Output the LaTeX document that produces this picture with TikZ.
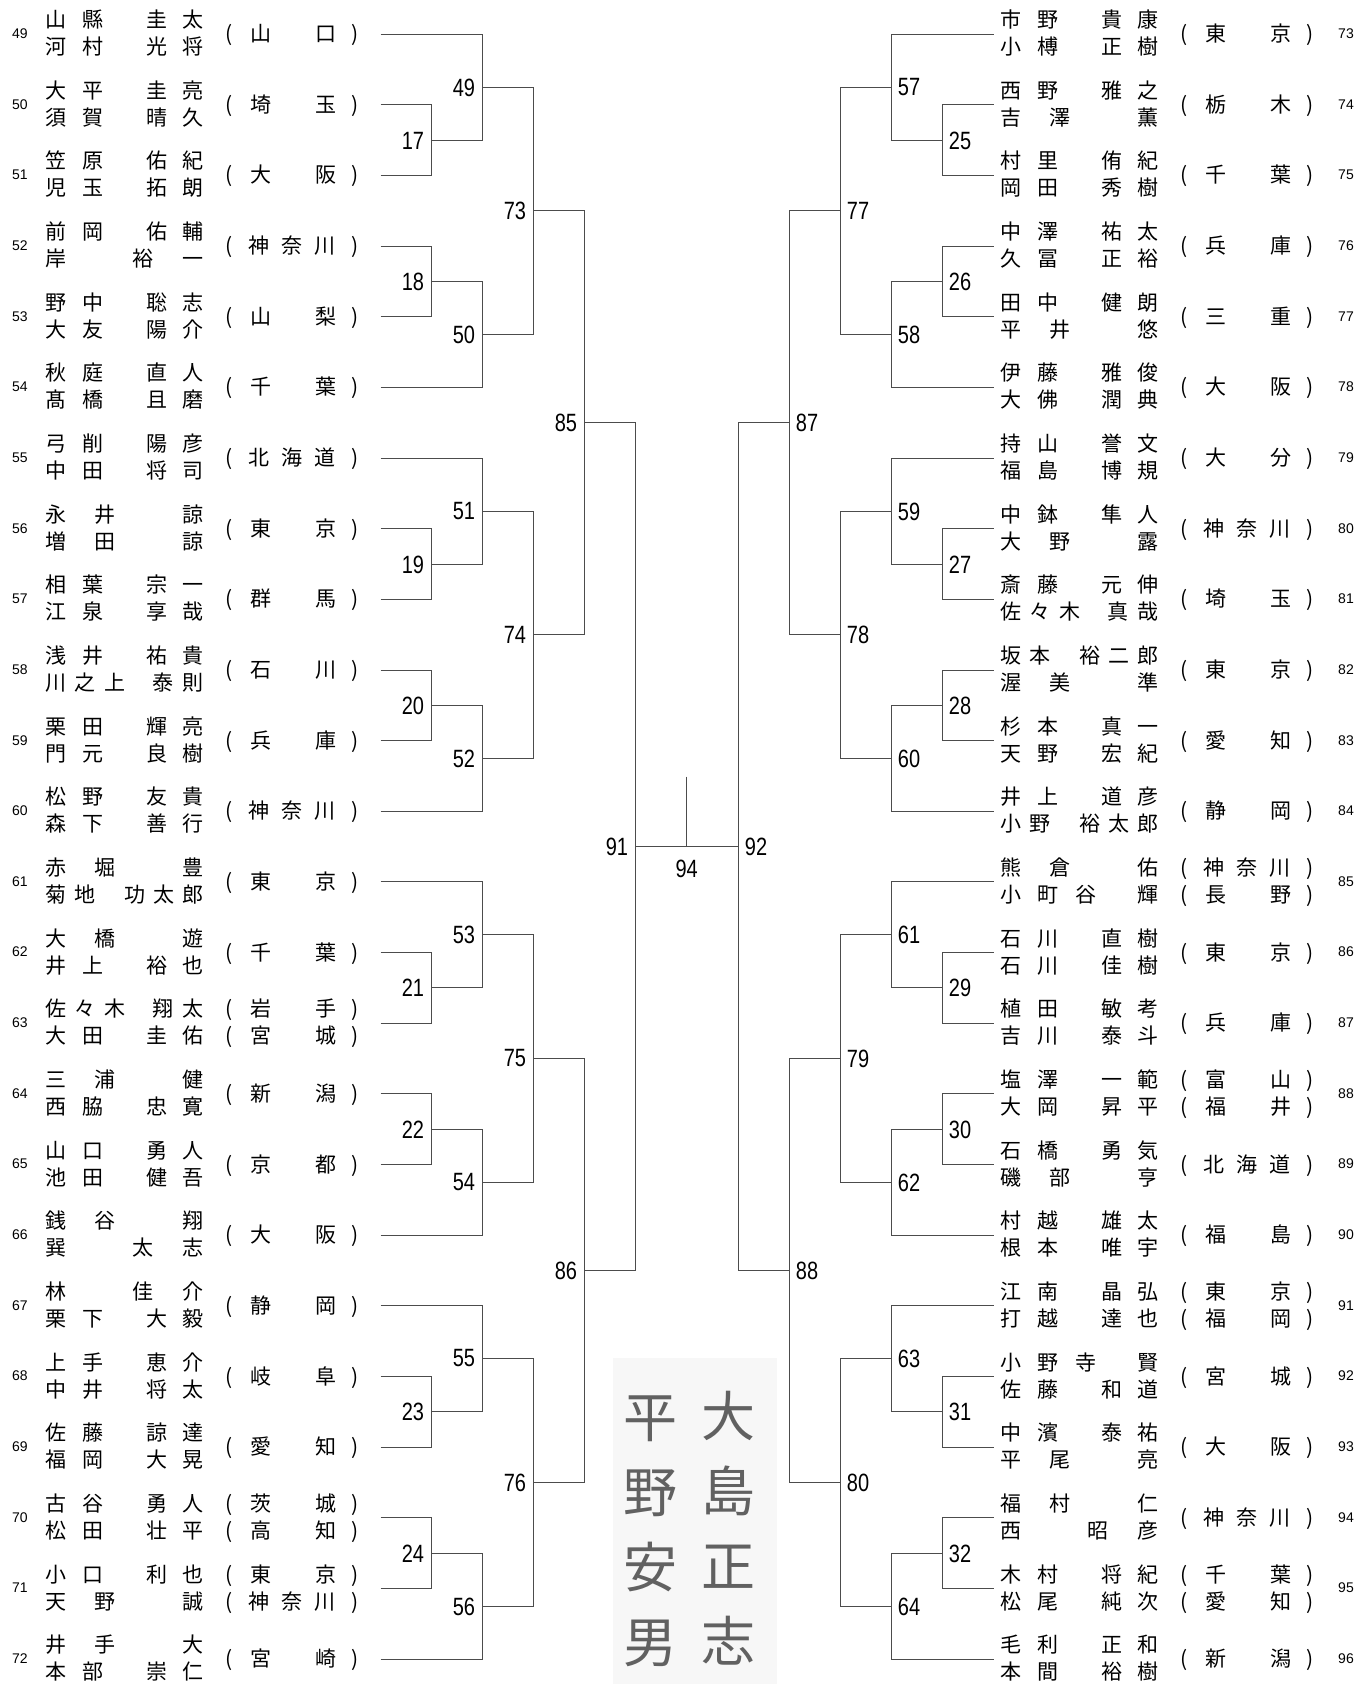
\documentclass[tikz,border=0pt]{standalone}
\usepackage{fontspec}
\setmainfont{Noto Sans CJK JP}
\newfontfamily\labf[FakeStretch=0.8]{Liberation Sans}
\newfontfamily\numf{Liberation Sans}
\newlength\U \setlength\U{0.5pt}
% name layouts (offsets of each character from the field start)
\newcommand\NA[4]{\rlap{#1}\hspace*{37\U}\rlap{#2}\hspace*{64\U}\rlap{#3}\hspace*{36\U}#4}
\newcommand\NB[3]{\rlap{#1}\hspace*{49\U}\rlap{#2}\hspace*{88\U}#3}
\newcommand\NC[3]{\rlap{#1}\hspace*{87\U}\rlap{#2}\hspace*{50\U}#3}
\newcommand\ND[5]{\rlap{#1}\hspace*{29.5\U}\rlap{#2}\hspace*{30\U}\rlap{#3}\hspace*{47.5\U}\rlap{#4}\hspace*{30\U}#5}
\newcommand\NE[5]{\rlap{#1}\hspace*{29.5\U}\rlap{#2}\hspace*{50\U}\rlap{#3}\hspace*{29\U}\rlap{#4}\hspace*{28.5\U}#5}
\newcommand\NF[4]{\rlap{#1}\hspace*{37\U}\rlap{#2}\hspace*{38\U}\rlap{#3}\hspace*{62\U}#4}
% prefecture layouts
\newcommand\PB[2]{\rlap{(}\hspace*{25\U}\rlap{#1}\hspace*{65\U}\rlap{#2}\hspace*{36\U})}
\newcommand\PC[3]{\rlap{(}\hspace*{23\U}\rlap{#1}\hspace*{33.5\U}\rlap{#2}\hspace*{32.5\U}\rlap{#3}\hspace*{37\U})}
% entries
\newcommand\EL[5]{%
  \pgfmathsetmacro\yy{33.7+70.65*#1}
  \node[nm] (N#2a) at (45,\yy-6) {#3};
  \node[nm] (N#2b) at (45,\yy+21) {#4};
  \node[pf] (P#2) at (225,\yy+8) {#5};
  \node[en] (E#2) at (20,\yy) {#2};}
\newcommand\ELL[6]{%
  \pgfmathsetmacro\yy{33.7+70.65*#1}
  \node[nm] (N#2a) at (45,\yy-6) {#3};
  \node[nm] (N#2b) at (45,\yy+21) {#4};
  \node[pf] (P#2) at (225,\yy-6) {#5};
  \node[pf] (Q#2) at (225,\yy+21) {#6};
  \node[en] (E#2) at (20,\yy) {#2};}
\newcommand\ER[5]{%
  \pgfmathsetmacro\yy{33.7+70.65*#1}
  \node[nm] (N#2a) at (1000,\yy-6) {#3};
  \node[nm] (N#2b) at (1000,\yy+21) {#4};
  \node[pf] (P#2) at (1180,\yy+8) {#5};
  \node[en] (E#2) at (1346,\yy) {#2};}
\newcommand\ERR[6]{%
  \pgfmathsetmacro\yy{33.7+70.65*#1}
  \node[nm] (N#2a) at (1000,\yy-6) {#3};
  \node[nm] (N#2b) at (1000,\yy+21) {#4};
  \node[pf] (P#2) at (1180,\yy-6) {#5};
  \node[pf] (Q#2) at (1180,\yy+21) {#6};
  \node[en] (E#2) at (1346,\yy) {#2};}
\begin{document}
\begin{tikzpicture}[x=0.5pt,y=-0.5pt,
  br/.style={draw=black!70,line width=0.6pt},
  lab/.style={inner sep=0pt,font={\labf\fontsize{12.5pt}{15pt}\selectfont}},
  nm/.style={anchor=base west,inner sep=0pt,font={\fontsize{10.5pt}{12pt}\selectfont}},
  pf/.style={anchor=base west,inner sep=0pt,font={\fontsize{10.5pt}{12pt}\selectfont}},
  en/.style={inner sep=0pt,font={\numf\fontsize{7pt}{8pt}\selectfont}},
  sig/.style={inner sep=0pt,align=center,text=black!62,font={\fontsize{27pt}{37.5pt}\selectfont}}]
\fill[white] (0,0) rectangle (1370,1684);
\path[use as bounding box] (0,0) rectangle (1370,1684);
\fill[black!3] (613,1358) rectangle (777,1684);
% ---------------- brackets ----------------
\foreach \sd/\xo/\dr/\anc/\off/\ra/\rb/\rc/\rd/\re in
  {L/380.5/1/east/-7/17/49/73/85/91,R/993.5/-1/west/6/25/57/77/87/92}{
  \foreach \i in {0,...,23}{
    \coordinate (\sd e\i) at (\xo,{round(33.7+70.65*\i)+0.5});
  }
  \pgfmathsetmacro\xa{\xo+\dr*51}
  \pgfmathsetmacro\xb{\xo+\dr*102}
  \pgfmathsetmacro\xc{\xo+\dr*153}
  \pgfmathsetmacro\xd{\xo+\dr*204}
  \pgfmathsetmacro\xe{\xo+\dr*255}
  \foreach \g in {0,...,3}{
    \pgfmathtruncatemacro\iA{6*\g}
    \pgfmathtruncatemacro\iB{6*\g+1}
    \pgfmathtruncatemacro\iC{6*\g+2}
    \pgfmathtruncatemacro\iD{6*\g+3}
    \pgfmathtruncatemacro\iE{6*\g+4}
    \pgfmathtruncatemacro\iF{6*\g+5}
    \pgfmathtruncatemacro\nA{\ra+2*\g}
    \pgfmathtruncatemacro\nB{\ra+2*\g+1}
    \pgfmathtruncatemacro\nC{\rb+2*\g}
    \pgfmathtruncatemacro\nD{\rb+2*\g+1}
    \pgfmathtruncatemacro\nE{\rc+\g}
    \pgfmathsetmacro\yA{round(33.7+70.65*(6*\g+1.5))+0.5}
    \pgfmathsetmacro\yB{round(33.7+70.65*(6*\g+3.5))+0.5}
    \pgfmathsetmacro\yC{round(33.7+70.65*(6*\g+0.75))+0.5}
    \pgfmathsetmacro\yD{round(33.7+70.65*(6*\g+4.25))+0.5}
    \pgfmathsetmacro\yE{round(33.7+70.65*(6*\g+2.5))+0.5}
    \coordinate (\sd m\nA) at (\xa,\yA);
    \coordinate (\sd m\nB) at (\xa,\yB);
    \coordinate (\sd m\nC) at (\xb,\yC);
    \coordinate (\sd m\nD) at (\xb,\yD);
    \coordinate (\sd m\nE) at (\xc,\yE);
    \node[lab,anchor=\anc] (\sd t\nA) at ([xshift=\off*0.5pt]\sd m\nA) {\nA};
    \node[lab,anchor=\anc] (\sd t\nB) at ([xshift=\off*0.5pt]\sd m\nB) {\nB};
    \node[lab,anchor=\anc] (\sd t\nC) at ([xshift=\off*0.5pt]\sd m\nC) {\nC};
    \node[lab,anchor=\anc] (\sd t\nD) at ([xshift=\off*0.5pt]\sd m\nD) {\nD};
    \node[lab,anchor=\anc] (\sd t\nE) at ([xshift=\off*0.5pt]\sd m\nE) {\nE};
    \draw[br] (\sd e\iB) -| (\sd m\nA);
    \draw[br] (\sd e\iC) -| (\sd m\nA);
    \draw[br] (\sd e\iD) -| (\sd m\nB);
    \draw[br] (\sd e\iE) -| (\sd m\nB);
    \draw[br] (\sd e\iA) -| (\sd m\nC);
    \draw[br] (\sd m\nA) -| (\sd m\nC);
    \draw[br] (\sd m\nB) -| (\sd m\nD);
    \draw[br] (\sd e\iF) -| (\sd m\nD);
    \draw[br] (\sd m\nC) -| (\sd m\nE);
    \draw[br] (\sd m\nD) -| (\sd m\nE);
  }
  \foreach \h in {0,1}{
    \pgfmathtruncatemacro\nF{\rd+\h}
    \pgfmathtruncatemacro\gA{\rc+2*\h}
    \pgfmathtruncatemacro\gB{\rc+2*\h+1}
    \pgfmathsetmacro\yF{round(33.7+70.65*(12*\h+5.5))+0.5}
    \coordinate (\sd m\nF) at (\xd,\yF);
    \node[lab,anchor=\anc] (\sd t\nF) at ([xshift=\off*0.5pt]\sd m\nF) {\nF};
    \draw[br] (\sd m\gA) -| (\sd m\nF);
    \draw[br] (\sd m\gB) -| (\sd m\nF);
  }
  \pgfmathtruncatemacro\rdd{\rd+1}
  \coordinate (\sd m\re) at (\xe,846.5);
  \node[lab,anchor=\anc] (\sd t\re) at ([xshift=\off*0.5pt]\sd m\re) {\re};
  \draw[br] (\sd m\rd) -| (\sd m\re);
  \draw[br] (\sd m\rdd) -| (\sd m\re);
}
\draw[br] (Lm91) -- (Rm92);
\coordinate (fin) at (686.5,846.5);
\coordinate (fintop) at (686.5,776.5);
\draw[br] (fintop) -- (fin);
\node[lab] (t94) at (686.7,869) {94};
% ---------------- left entries ----------------
\EL{0}{49}{\NA 山縣圭太}{\NA 河村光将}{\PB 山口}
\EL{1}{50}{\NA 大平圭亮}{\NA 須賀晴久}{\PB 埼玉}
\EL{2}{51}{\NA 笠原佑紀}{\NA 児玉拓朗}{\PB 大阪}
\EL{3}{52}{\NA 前岡佑輔}{\NC 岸裕一}{\PC 神奈川}
\EL{4}{53}{\NA 野中聡志}{\NA 大友陽介}{\PB 山梨}
\EL{5}{54}{\NA 秋庭直人}{\NA 髙橋且磨}{\PB 千葉}
\EL{6}{55}{\NA 弓削陽彦}{\NA 中田将司}{\PC 北海道}
\EL{7}{56}{\NB 永井諒}{\NB 増田諒}{\PB 東京}
\EL{8}{57}{\NA 相葉宗一}{\NA 江泉享哉}{\PB 群馬}
\EL{9}{58}{\NA 浅井祐貴}{\ND 川之上泰則}{\PB 石川}
\EL{10}{59}{\NA 栗田輝亮}{\NA 門元良樹}{\PB 兵庫}
\EL{11}{60}{\NA 松野友貴}{\NA 森下善行}{\PC 神奈川}
\EL{12}{61}{\NB 赤堀豊}{\NE 菊地功太郎}{\PB 東京}
\EL{13}{62}{\NB 大橋遊}{\NA 井上裕也}{\PB 千葉}
\ELL{14}{63}{\ND 佐々木翔太}{\NA 大田圭佑}{\PB 岩手}{\PB 宮城}
\EL{15}{64}{\NB 三浦健}{\NA 西脇忠寛}{\PB 新潟}
\EL{16}{65}{\NA 山口勇人}{\NA 池田健吾}{\PB 京都}
\EL{17}{66}{\NB 銭谷翔}{\NC 巽太志}{\PB 大阪}
\EL{18}{67}{\NC 林佳介}{\NA 栗下大毅}{\PB 静岡}
\EL{19}{68}{\NA 上手恵介}{\NA 中井将太}{\PB 岐阜}
\EL{20}{69}{\NA 佐藤諒達}{\NA 福岡大晃}{\PB 愛知}
\ELL{21}{70}{\NA 古谷勇人}{\NA 松田壮平}{\PB 茨城}{\PB 高知}
\ELL{22}{71}{\NA 小口利也}{\NB 天野誠}{\PB 東京}{\PC 神奈川}
\EL{23}{72}{\NB 井手大}{\NA 本部崇仁}{\PB 宮崎}
% ---------------- right entries ----------------
\ER{0}{73}{\NA 市野貴康}{\NA 小榑正樹}{\PB 東京}
\ER{1}{74}{\NA 西野雅之}{\NB 吉澤薫}{\PB 栃木}
\ER{2}{75}{\NA 村里侑紀}{\NA 岡田秀樹}{\PB 千葉}
\ER{3}{76}{\NA 中澤祐太}{\NA 久冨正裕}{\PB 兵庫}
\ER{4}{77}{\NA 田中健朗}{\NB 平井悠}{\PB 三重}
\ER{5}{78}{\NA 伊藤雅俊}{\NA 大佛潤典}{\PB 大阪}
\ER{6}{79}{\NA 持山誉文}{\NA 福島博規}{\PB 大分}
\ER{7}{80}{\NA 中鉢隼人}{\NB 大野露}{\PC 神奈川}
\ER{8}{81}{\NA 斎藤元伸}{\ND 佐々木真哉}{\PB 埼玉}
\ER{9}{82}{\NE 坂本裕二郎}{\NB 渥美準}{\PB 東京}
\ER{10}{83}{\NA 杉本真一}{\NA 天野宏紀}{\PB 愛知}
\ER{11}{84}{\NA 井上道彦}{\NE 小野裕太郎}{\PB 静岡}
\ERR{12}{85}{\NB 熊倉佑}{\NF 小町谷輝}{\PC 神奈川}{\PB 長野}
\ER{13}{86}{\NA 石川直樹}{\NA 石川佳樹}{\PB 東京}
\ER{14}{87}{\NA 植田敏考}{\NA 吉川泰斗}{\PB 兵庫}
\ERR{15}{88}{\NA 塩澤一範}{\NA 大岡昇平}{\PB 富山}{\PB 福井}
\ER{16}{89}{\NA 石橋勇気}{\NB 磯部亨}{\PC 北海道}
\ER{17}{90}{\NA 村越雄太}{\NA 根本唯宇}{\PB 福島}
\ERR{18}{91}{\NA 江南晶弘}{\NA 打越達也}{\PB 東京}{\PB 福岡}
\ER{19}{92}{\NF 小野寺賢}{\NA 佐藤和道}{\PB 宮城}
\ER{20}{93}{\NA 中濱泰祐}{\NB 平尾亮}{\PB 大阪}
\ER{21}{94}{\NB 福村仁}{\NC 西昭彦}{\PC 神奈川}
\ERR{22}{95}{\NA 木村将紀}{\NA 松尾純次}{\PB 千葉}{\PB 愛知}
\ER{23}{96}{\NA 毛利正和}{\NA 本間裕樹}{\PB 新潟}
% ---------------- signatures ----------------
\node[sig] (sigA) at (728,1528) {大\\島\\正\\志};
\node[sig] (sigB) at (650,1531) {平\\野\\安\\男};
\end{tikzpicture}
\end{document}
